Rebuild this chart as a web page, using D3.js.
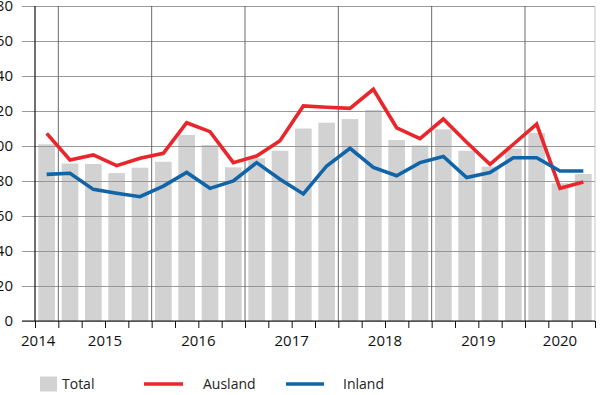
<!DOCTYPE html>
<html>
<head>
<meta charset="utf-8">
<script src="https://cdn.jsdelivr.net/npm/d3@7"></script>
<style>
  body { margin: 0; background: #fff; }
  svg { display: block; font-family: "Open Sans", sans-serif; }
</style>
</head>
<body>
<svg id="root"></svg>
<script>
// quarters 2014 Q4 .. 2020 Q3
const quarters = ["2014Q4",
  "2015Q1", "2015Q2", "2015Q3", "2015Q4",
  "2016Q1", "2016Q2", "2016Q3", "2016Q4",
  "2017Q1", "2017Q2", "2017Q3", "2017Q4",
  "2018Q1", "2018Q2", "2018Q3", "2018Q4",
  "2019Q1", "2019Q2", "2019Q3", "2019Q4",
  "2020Q1", "2020Q2", "2020Q3"]

const total = [101, 90, 89.7, 84.5, 87.6, 91, 106.3, 100.6, 87.8, 93, 97.3, 110,
  113.3, 115.4, 120.6, 103.4, 100.3, 109.5, 97.3, 88.2, 98.5, 107.4, 78.7, 84]
const ausland = [107.2, 92, 94.9, 88.8, 93, 95.8, 113.3, 108.2, 90.5, 94.3, 103, 122.9,
  122.1, 121.5, 132.4, 110.4, 104.2, 115.4, 102.1, 89.5, 101, 112.5, 75.8, 79.4]
const inland = [83.8, 84.4, 75.2, 73, 71, 77.1, 84.9, 75.8, 80, 90.5, 81, 72.6,
  88.6, 98.7, 87.8, 83, 90.5, 94, 82, 84.8, 93.3, 93.3, 85.7, 85.7]

const years = ["2014", "2015", "2016", "2017", "2018", "2019", "2020"]
const yTicks = [0, 20, 40, 60, 80, 100, 120, 140, 160, 180]

const W = 600, H = 395
const margin = { top: 6, right: 5, bottom: 74, left: 35 }
const width = W - margin.left - margin.right,
  height = H - margin.top - margin.bottom

const svg = d3.select("#root").attr("width", W).attr("height", H)
const g = svg.append("g")
  .attr("transform", "translate(" + margin.left + "," + margin.top + ")")

const red = "#e8262b", blue = "#1064a8", barColor = "#d2d2d2"

let xBand = d3.scaleBand(quarters, [0, width]).paddingInner(0.285).paddingOuter(0.1425)
let xEdge = d3.scaleLinear([0, quarters.length], [0, width])
let yScale = d3.scaleLinear([0, 180], [height, 0])

// bars first, grid drawn over them
g.selectAll("rect.bar")
  .data(total)
  .join("rect")
  .attr("class", "bar")
  .attr("x", (d, i) => xBand(quarters[i]))
  .attr("y", d => yScale(d))
  .attr("width", xBand.bandwidth())
  .attr("height", d => height - yScale(d))
  .attr("fill", barColor)

// horizontal grid + y labels
let yAxis = d3.axisLeft(yScale).tickValues(yTicks).tickSize(-(width + 13)).tickPadding(9)
g.append("g")
  .attr("transform", `translate(-13,0)`)
  .call(yAxis)
  .call(a => a.select(".domain").remove())
  .call(a => a.selectAll(".tick line").attr("stroke", "#8f8f8f").attr("stroke-width", 0.9))
  .call(a => a.selectAll(".tick text").attr("font-size", 15).attr("fill", "#111")
    .attr("font-family", "Open Sans, sans-serif"))

// year separators (vertical lines at year starts)
const yearStarts = quarters.map((q, i) => i).filter(i => i > 0 && quarters[i].endsWith("Q1"))
g.selectAll("line.year")
  .data(yearStarts)
  .join("line")
  .attr("class", "year")
  .attr("x1", d => xEdge(d)).attr("x2", d => xEdge(d))
  .attr("y1", 0).attr("y2", height)
  .attr("stroke", "#5a5a5a").attr("stroke-width", 0.9)

// right border
g.append("line")
  .attr("x1", width).attr("x2", width).attr("y1", 0).attr("y2", height)
  .attr("stroke", "#bdbdbd").attr("stroke-width", 0.9)

// left axis line
g.append("line")
  .attr("x1", 0).attr("x2", 0).attr("y1", 0).attr("y2", height)
  .attr("stroke", "#111").attr("stroke-width", 1.2)

// bottom axis with quarter ticks
let xAxis = d3.axisBottom(xEdge).tickValues(d3.range(0, quarters.length + 1)).tickSize(7).tickFormat("")
g.append("g")
  .attr("transform", `translate(0,${height})`)
  .call(xAxis)
  .call(a => a.select(".domain").attr("d", `M-13,0H${width}`).attr("stroke", "#111").attr("stroke-width", 1.2))
  .call(a => a.selectAll(".tick line").attr("stroke", "#111"))

// year labels in the middle of their quarters
years.forEach(yr => {
  let idx = quarters.map((q, i) => i).filter(i => quarters[i].startsWith(yr))
  let mid = xEdge((idx[0] + idx[idx.length - 1] + 1) / 2)
  let anchor = "middle"
  if (idx.length == 1 && idx[0] == 0) {
    // first year has only one quarter, label pushed left
    mid = xEdge(1) - 3
    anchor = "end"
  }
  g.append("text")
    .attr("x", mid)
    .attr("y", height + 25)
    .attr("text-anchor", anchor)
    .attr("font-size", 15)
    .attr("fill", "#111")
    .text(yr)
})

// lines
let line = d3.line()
  .x((d, i) => xBand(quarters[i]) + xBand.bandwidth() / 2)
  .y(d => yScale(d))

g.append("path")
  .datum(ausland)
  .attr("fill", "none")
  .attr("stroke", red)
  .attr("stroke-width", 3.6)
  .attr("stroke-linejoin", "miter")
  .attr("d", line)

g.append("path")
  .datum(inland)
  .attr("fill", "none")
  .attr("stroke", blue)
  .attr("stroke-width", 3.6)
  .attr("stroke-linejoin", "miter")
  .attr("d", line)

// legend
const legend = svg.append("g").attr("font-size", 14).attr("fill", "#222")
legend.append("rect").attr("x", 40).attr("y", 376.5).attr("width", 17).attr("height", 15).attr("fill", barColor)
legend.append("text").attr("x", 62).attr("y", 388.5).text("Total")
legend.append("line").attr("x1", 144).attr("x2", 183).attr("y1", 384).attr("y2", 384)
  .attr("stroke", red).attr("stroke-width", 3.6)
legend.append("text").attr("x", 203).attr("y", 388.5).text("Ausland")
legend.append("line").attr("x1", 286).attr("x2", 324).attr("y1", 384).attr("y2", 384)
  .attr("stroke", blue).attr("stroke-width", 3.6)
legend.append("text").attr("x", 343).attr("y", 388.5).text("Inland")
</script>
</body>
</html>
